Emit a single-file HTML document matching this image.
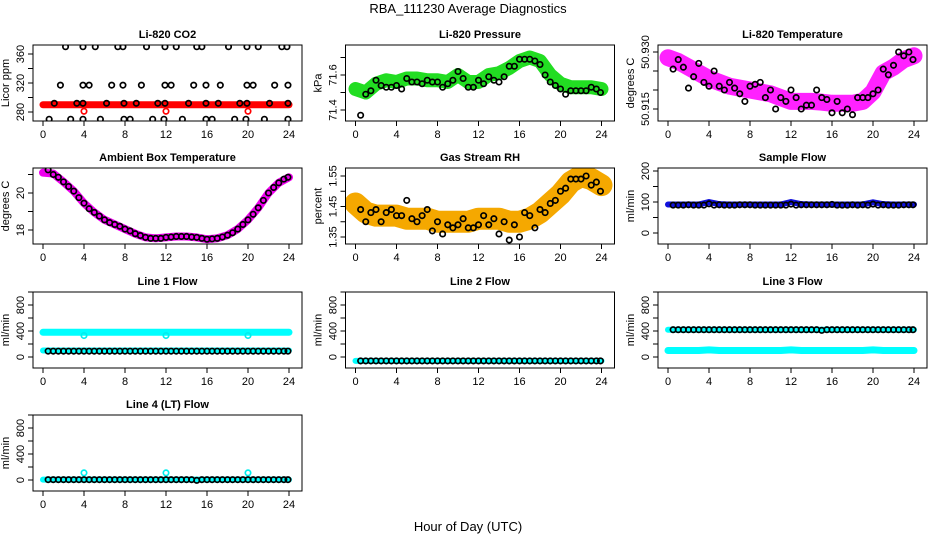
<!DOCTYPE html>
<html><head><meta charset="utf-8"><style>
html,body{margin:0;padding:0;background:#fff}
svg{display:block;font-family:"Liberation Sans",sans-serif}
</style></head><body>
<svg id="chart" width="936" height="540" viewBox="0 0 936 540" xmlns="http://www.w3.org/2000/svg">
<rect width="936" height="540" fill="#fff"/>
<text x="468" y="13" font-size="13" text-anchor="middle">RBA_111230  Average Diagnostics</text>
<text x="468" y="531" font-size="13" text-anchor="middle">Hour of Day (UTC)</text>
</svg>
<script>
const hours48=[0.5,1,1.5,2,2.5,3,3.5,4,4.5,5,5.5,6,6.5,7,7.5,8,8.5,9,9.5,10,10.5,11,11.5,12,12.5,13,13.5,14,14.5,15,15.5,16,16.5,17,17.5,18,18.5,19,19.5,20,20.5,21,21.5,22,22.5,23,23.5,23.9];
const bandHours=[0,1,2,3,4,5,6,7,8,9,10,11,12,13,14,15,16,17,18,19,20,21,22,23,24];
const xTicks=[0,4,8,12,16,20,24];

const co2Hours=[2.2,3.9,5.1,7.3,7.8,10.1,11.9,13,15,15.5,18.1,19.9,21,23.3,23.8, 1.7,3.9,4.5,6.7,7.8,9.6,11.9,12.5,14.7,15.9,17.3,19.9,20.5,22.6,23.9, 1.1,3.3,3.9,6.2,7.9,9.1,11.2,11.9,14.2,15.9,17.1,19.2,19.9,22.1,23.9, 0.6,2.7,3.9,5.6,7.9,8.5,10.7,11.8,13.6,15.9,16.5,18.7,19.8,21.6,23.9];
const co2Values=[370,370,370,370,370,370,370,370,370,370,370,370,370,370,370, 317,317,317,317,317,317,317,317,317,317,317,317,317,317,317, 292,292,292,292,292,292,292,292,292,292,292,292,292,292,292, 270,270,270,270,270,270,270,270,270,270,270,270,270,270,270];
const co2Band=[290,290,290,290,290,290,290,290,290,290,290,290,290,290,290,290,290,290,290,290,290,290,290,290,290];
const co2RedHours=[4,12,20];
const co2RedValues=[281,281,281];

const pressBlack=[71.37,71.49,71.51,71.57,71.54,71.53,71.53,71.54,71.52,71.58,71.56,71.56,71.55,71.57,71.56,71.56,71.53,71.55,71.57,71.62,71.58,71.53,71.53,71.57,71.55,71.59,71.57,71.56,71.59,71.65,71.65,71.69,71.69,71.69,71.68,71.66,71.6,71.56,71.54,71.52,71.49,71.51,71.51,71.51,71.51,71.53,71.52,71.5];
const pressBand=[71.52,71.5,71.55,71.57,71.56,71.58,71.58,71.57,71.57,71.56,71.6,71.56,71.56,71.6,71.61,71.64,71.68,71.7,71.68,71.6,71.55,71.53,71.53,71.53,71.52];

const l820Black=[50.9255,50.928,50.926,50.9205,50.9235,50.927,50.922,50.921,50.925,50.921,50.920,50.922,50.9205,50.919,50.917,50.921,50.9215,50.922,50.918,50.920,50.915,50.918,50.917,50.920,50.918,50.915,50.916,50.916,50.920,50.918,50.9175,50.914,50.917,50.914,50.915,50.9135,50.918,50.918,50.918,50.919,50.920,50.9255,50.924,50.9265,50.930,50.929,50.930,50.928];
const l820Band=[50.9285,50.9275,50.926,50.9245,50.923,50.922,50.921,50.9205,50.920,50.9195,50.919,50.918,50.917,50.917,50.917,50.9168,50.9165,50.9165,50.9165,50.917,50.9195,50.9245,50.926,50.928,50.929];

const ambBlack=[21.25,21.0,20.85,20.6,20.35,20.1,19.75,19.45,19.15,18.95,18.75,18.55,18.4,18.3,18.2,18.05,17.95,17.8,17.7,17.6,17.55,17.55,17.55,17.6,17.62,17.65,17.65,17.65,17.62,17.6,17.55,17.5,17.52,17.55,17.62,17.72,17.85,18.05,18.3,18.55,18.85,19.2,19.6,20.0,20.3,20.55,20.75,20.85];
const ambBand=[21.1,21.05,20.6,20.1,19.45,18.95,18.55,18.3,18.05,17.8,17.6,17.55,17.6,17.65,17.65,17.6,17.5,17.55,17.72,18.05,18.55,19.2,20.0,20.55,20.85];

const rhBlack=[1.44,1.40,1.43,1.44,1.40,1.43,1.44,1.42,1.42,1.47,1.41,1.40,1.42,1.44,1.37,1.40,1.36,1.39,1.38,1.39,1.41,1.38,1.38,1.39,1.42,1.39,1.41,1.36,1.40,1.34,1.39,1.35,1.43,1.42,1.38,1.44,1.43,1.46,1.47,1.50,1.51,1.54,1.54,1.54,1.55,1.52,1.53,1.50];
const rhBand=[1.46,1.43,1.42,1.42,1.42,1.41,1.41,1.41,1.40,1.40,1.40,1.40,1.41,1.41,1.41,1.40,1.40,1.41,1.43,1.46,1.49,1.53,1.55,1.54,1.52];

const sampleBlack=[90,90,90,91,90,90,90,94,90,91,90,90,90,91,91,91,90,90,90,90,90,90,90,93,90,91,91,91,91,91,91,92,90,90,90,91,90,91,90,93,90,91,90,90,90,91,91,91];
const sampleBand=[92,92,92,92,100,93,92,92,92,92,92,92,100,93,92,92,92,92,92,92,99,93,92,92,92];

const line1Black=[90,90,90,90,90,90,90,90,90,90,90,90,90,90,90,90,90,90,90,90,90,90,90,90,90,90,90,90,90,90,90,90,90,90,90,90,90,90,90,90,90,90,90,90,90,90,90,90];
const line1BandHi=[380,380,380,380,380,380,380,380,380,380,380,380,380,380,380,380,380,380,380,380,380,380,380,380,380];
const line1BandLo=[100,100,100,100,100,100,100,100,100,100,100,100,100,100,100,100,100,100,100,100,100,100,100,100,100];
const line1CyanHours=[4,12,20];
const line1CyanValues=[330,330,330];

const line2Black=[-60,-60,-60,-60,-60,-60,-60,-60,-60,-60,-60,-60,-60,-60,-60,-60,-60,-60,-60,-60,-60,-60,-60,-60,-60,-60,-60,-60,-60,-60,-60,-60,-60,-60,-60,-60,-60,-60,-60,-60,-60,-60,-60,-60,-60,-60,-60,-60];
const line2Band=[-60,-60,-60,-60,-60,-60,-60,-60,-60,-60,-60,-60,-60,-60,-60,-60,-60,-60,-60,-60,-60,-60,-60,-60,-60];

const line3Black=[420,420,420,420,420,420,420,420,420,420,420,420,420,420,420,420,420,420,420,420,420,420,420,420,420,420,420,420,420,410,420,420,420,420,420,420,420,420,420,420,420,420,420,420,420,420,420,420];
const line3BandHi=[420,420,420,420,420,420,420,420,420,420,420,420,420,420,420,420,420,420,420,420,420,420,420,420,420];
const line3BandLo=[100,100,100,100,110,100,100,100,100,100,100,100,110,100,100,100,100,100,100,100,110,100,100,100,100];

const line4Black=[5,5,5,5,5,5,5,5,5,5,5,5,5,5,5,5,5,5,5,5,5,5,5,5,5,5,5,5,5,-5,5,5,5,5,5,5,5,5,5,5,5,5,5,5,5,5,5,5];
const line4Band=[5,5,5,5,5,5,5,5,5,5,5,5,5,5,5,5,5,5,5,5,5,5,5,5,5];
const line4CyanHours=[4,12,20];
const line4CyanValues=[110,110,110];

const NS="http://www.w3.org/2000/svg";
const svg=document.getElementById('chart');
function mk(tag,attrs,parent){const e=document.createElementNS(NS,tag);for(const k in attrs)e.setAttribute(k,attrs[k]);(parent||svg).appendChild(e);return e;}
const rowTop=[45,168,292,415];
function panel(col,row,cfg){
  const L=33+col*312.5, R=L+269, T=rowTop[row], B=T+76;
  const g=mk('g',{});
  
  
  const xs=h=>L+10+h*10.25;
  const ys=v=>T+cfg.p0+(v-cfg.v0)*(cfg.p1-cfg.p0)/(cfg.v1-cfg.v0);
  const clip='c'+col+row;
  const cp=mk('clipPath',{id:clip},g);mk('rect',{x:L,y:T,width:269,height:76},cp);
  const plot=mk('g',{'clip-path':'url(#'+clip+')'},g);
  (cfg.bands||[]).forEach(b=>{
    const pl=mk('polyline',{points:b.v.map((v,i)=>xs(b.h[i])+','+ys(v)).join(' '),fill:'none',stroke:b.c,'stroke-width':b.w,'stroke-linejoin':'round','stroke-linecap':'round'},plot);
    
    
  });
  (cfg.pts||[]).forEach(s=>{
    s.v.forEach((v,i)=>{
      const c=mk('circle',{cx:xs(s.h[i]),cy:ys(v),r:2.7,fill:'none',stroke:s.c,'stroke-width':1.7},plot);
      
      
    });
  });
  mk('rect',{x:L,y:T,width:269,height:76,fill:'none',stroke:'#000','stroke-width':1},g);
  const xa=mk('g',{},g);
  
  
  mk('line',{x1:xs(0),x2:xs(24),y1:B,y2:B,stroke:'#000'},xa);
  xTicks.forEach(t=>{
    mk('line',{x1:xs(t),x2:xs(t),y1:B,y2:B+5,stroke:'#000'},xa);
    const tx=mk('text',{x:xs(t),y:B+17,'font-size':11,'text-anchor':'middle'},xa);tx.textContent=t;
  });
  const ya=mk('g',{},g);
  
  
  cfg.ticks.forEach(t=>{
    const y=ys(t); if(y<T-1||y>B+1)return;
    mk('line',{x1:L-5,x2:L,y1:y,y2:y,stroke:'#000'},ya);
  });
  cfg.labels.forEach(t=>{
    const y=ys(t);
    const tx=mk('text',{x:L-9,y:y,'font-size':11,'text-anchor':'middle',transform:'rotate(-90 '+(L-9)+' '+y+')'},ya);
    tx.textContent=cfg.fmt?cfg.fmt(t):t;
  });
  const yl=mk('text',{x:L-24,y:(T+B)/2,'font-size':11,'text-anchor':'middle',transform:'rotate(-90 '+(L-24)+' '+((T+B)/2)+')'},g);
  yl.textContent=cfg.ylab;
  
  
  const ti=mk('text',{x:(L+R)/2,y:T-7,'font-size':11,'font-weight':'bold','text-anchor':'middle'},g);
  ti.textContent=cfg.title;
  
  
}
panel(0,0,{name:'co2-panel',title:'Li-820 CO2',ylab:'Licor ppm',v0:280,p0:67,v1:360,p1:9,ticks:[280,300,320,340,360],labels:[280,320,360],
  bands:[{n:'co2-band',h:bandHours,v:co2Band,c:'#ff0000',w:7}],
  pts:[{n:'co2-red-point',h:co2RedHours,v:co2RedValues,c:'#ff0000'},{n:'co2-point',h:co2Hours,v:co2Values,c:'#000'}]});
panel(1,0,{name:'pressure-panel',title:'Li-820 Pressure',ylab:'kPa',v0:71.4,p0:65,v1:71.6,p1:30,ticks:[71.4,71.5,71.6,71.7],labels:[71.4,71.6],
  bands:[{n:'pressure-band',h:bandHours,v:pressBand,c:'#22dd22',w:14}],
  pts:[{n:'pressure-point',h:hours48,v:pressBlack,c:'#000'}]});
panel(2,0,{name:'l820-temp-panel',title:'Li-820 Temperature',ylab:'degrees C',v0:50.915,p0:64,v1:50.930,p1:7,ticks:[50.915,50.92,50.925,50.93],labels:[50.915,50.930],fmt:t=>t.toFixed(3),
  bands:[{n:'l820-temp-band',h:bandHours,v:l820Band,c:'#ff22ff',w:17}],
  pts:[{n:'l820-temp-point',h:hours48,v:l820Black,c:'#000'}]});
panel(0,1,{name:'ambient-temp-panel',title:'Ambient Box Temperature',ylab:'degrees C',v0:18,p0:62,v1:20,p1:25,ticks:[18,19,20,21],labels:[18,20],
  bands:[{n:'ambient-band',h:bandHours,v:ambBand,c:'#ee00ee',w:8}],
  pts:[{n:'ambient-point',h:hours48,v:ambBlack,c:'#000'}]});
panel(1,1,{name:'rh-panel',title:'Gas Stream RH',ylab:'percent',v0:1.35,p0:69,v1:1.55,p1:8,ticks:[1.35,1.4,1.45,1.5,1.55],labels:[1.35,1.45,1.55],fmt:t=>t.toFixed(2),
  bands:[{n:'rh-band',h:bandHours,v:rhBand,c:'#f5a800',w:22}],
  pts:[{n:'rh-point',h:hours48,v:rhBlack,c:'#000'}]});
panel(2,1,{name:'sample-flow-panel',title:'Sample Flow',ylab:'ml/min',v0:0,p0:65,v1:200,p1:3,ticks:[0,50,100,150,200],labels:[0,100,200],
  bands:[{n:'sample-flow-band',h:bandHours,v:sampleBand,c:'#1010dd',w:6}],
  pts:[{n:'sample-flow-point',h:hours48,v:sampleBlack,c:'#000'}]});
const flowTicks=[0,200,400,600,800,1000], flowLabels=[0,400,800];
panel(0,2,{name:'line1-flow-panel',title:'Line 1 Flow',ylab:'ml/min',v0:0,p0:65,v1:800,p1:13,ticks:flowTicks,labels:flowLabels,
  bands:[{n:'line1-band-high',h:bandHours,v:line1BandHi,c:'#00ffff',w:7},{n:'line1-band-low',h:bandHours,v:line1BandLo,c:'#00ffff',w:6}],
  pts:[{n:'line1-cyan-point',h:line1CyanHours,v:line1CyanValues,c:'#00eeee'},{n:'line1-point',h:hours48,v:line1Black,c:'#000'}]});
panel(1,2,{name:'line2-flow-panel',title:'Line 2 Flow',ylab:'ml/min',v0:0,p0:65,v1:800,p1:13,ticks:flowTicks,labels:flowLabels,
  bands:[{n:'line2-band',h:bandHours,v:line2Band,c:'#00ffff',w:6}],
  pts:[{n:'line2-point',h:hours48,v:line2Black,c:'#000'}]});
panel(2,2,{name:'line3-flow-panel',title:'Line 3 Flow',ylab:'ml/min',v0:0,p0:65,v1:800,p1:13,ticks:flowTicks,labels:flowLabels,
  bands:[{n:'line3-band-high',h:bandHours,v:line3BandHi,c:'#00ffff',w:6},{n:'line3-band-low',h:bandHours,v:line3BandLo,c:'#00ffff',w:7}],
  pts:[{n:'line3-point',h:hours48,v:line3Black,c:'#000'}]});
panel(0,3,{name:'line4-flow-panel',title:'Line 4 (LT) Flow',ylab:'ml/min',v0:0,p0:65,v1:800,p1:13,ticks:flowTicks,labels:flowLabels,
  bands:[{n:'line4-band',h:bandHours,v:line4Band,c:'#00ffff',w:6}],
  pts:[{n:'line4-cyan-point',h:line4CyanHours,v:line4CyanValues,c:'#00eeee'},{n:'line4-point',h:hours48,v:line4Black,c:'#000'}]});
</script>
</body></html>
